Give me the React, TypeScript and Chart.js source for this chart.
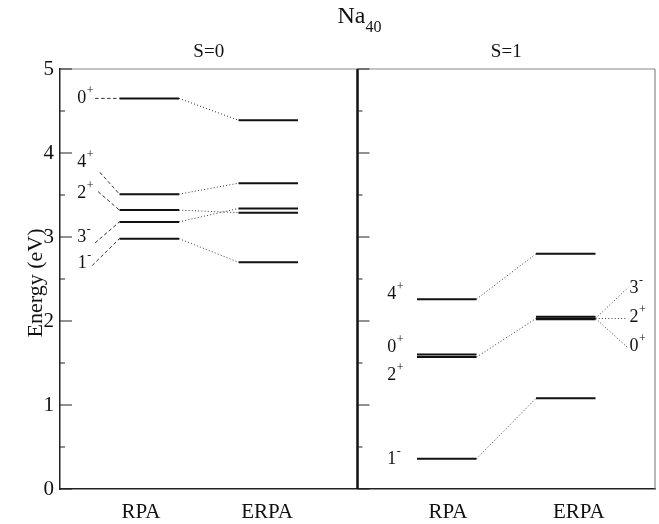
import React, { useEffect, useRef } from "react";
import { Chart, registerables } from "chart.js";

Chart.register(...registerables);

const FONT = "'Liberation Serif', 'Times New Roman', serif";

// ----- text -----
const titleMain = "Na";
const titleSub = "40";
const panelTitles = ["S=0", "S=1"];
const yAxisTitle = "Energy (eV)";

// ----- axes -----
const xTickLabels = ["RPA", "ERPA", "RPA", "ERPA"];
const xTickPositions = [1.36, 3.48, 6.52, 8.72];
const yMin = 0;
const yMax = 5;

// ----- columns (x spans in chart units) -----
const s0RpaSpan = [1, 2];
const s0ErpaSpan = [3, 4];
const s1RpaSpan = [6, 7];
const s1ErpaSpan = [8, 9];
const panelDivider = 5;

// ----- energy levels (eV) -----
const s0Rpa = [4.65, 3.51, 3.32, 3.18, 2.98];
const s0Erpa = [4.39, 3.64, 3.34, 3.29, 2.70];
const s1Rpa = [2.26, 1.60, 1.57, 0.36];
const s1Erpa = [2.80, 2.05, 2.03, 2.02, 1.08];

// dotted correlations: [rpa index, erpa index]
const s0Links = [[0, 0], [1, 1], [2, 3], [3, 2], [4, 4]];
const s1Links = [[0, 0], [2, 2], [3, 4]];

// state labels: [main, superscript, x, y]
const s0Labels: [string, string, number, number][] = [
  ["0", "+", 0.29, 4.595],
  ["4", "+", 0.29, 3.83],
  ["2", "+", 0.29, 3.46],
  ["3", "-", 0.29, 2.94],
  ["1", "-", 0.30, 2.63],
];
const s1LeftLabels: [string, string, number, number][] = [
  ["4", "+", 5.5, 2.26],
  ["0", "+", 5.5, 1.63],
  ["2", "+", 5.5, 1.30],
  ["1", "-", 5.5, 0.30],
];
const s1RightLabels: [string, string, number, number][] = [
  ["3", "-", 9.57, 2.33],
  ["2", "+", 9.57, 1.99],
  ["0", "+", 9.57, 1.64],
];

// dashed leaders from S=0 labels to RPA levels: [x0, y0, rpa index]
const s0Leaders = [
  [0.59, 4.65, 0],
  [0.67, 3.77, 1],
  [0.64, 3.54, 2],
  [0.59, 2.93, 3],
  [0.54, 2.66, 4],
];
// dotted leaders from S=1 ERPA triplet to labels: [x1, y1]
const s1Leaders = [
  [9.55, 2.40],
  [9.53, 2.03],
  [9.53, 1.69],
];
const s1TripletLevel = 2;

type Seg = { x0: number; y0: number; x1: number; y1: number; kind: "level" | "dot" | "dash" };

function buildSegments(): Seg[] {
  const segs: Seg[] = [];
  const lv = (vals: number[], span: number[]) =>
    vals.forEach((v) => segs.push({ x0: span[0], y0: v, x1: span[1], y1: v, kind: "level" }));
  lv(s0Rpa, s0RpaSpan);
  lv(s0Erpa, s0ErpaSpan);
  lv(s1Rpa, s1RpaSpan);
  lv(s1Erpa, s1ErpaSpan);
  s0Links.forEach(([a, b]) =>
    segs.push({ x0: s0RpaSpan[1], y0: s0Rpa[a], x1: s0ErpaSpan[0], y1: s0Erpa[b], kind: "dot" })
  );
  s1Links.forEach(([a, b]) =>
    segs.push({ x0: s1RpaSpan[1], y0: s1Rpa[a], x1: s1ErpaSpan[0], y1: s1Erpa[b], kind: "dot" })
  );
  s0Leaders.forEach(([x, y, i]) =>
    segs.push({ x0: x, y0: y, x1: s0RpaSpan[0], y1: s0Rpa[i], kind: "dash" })
  );
  s1Leaders.forEach(([x, y]) =>
    segs.push({ x0: s1ErpaSpan[1], y0: s1Erpa[s1TripletLevel], x1: x, y1: y, kind: "dot" })
  );
  return segs;
}

const framePlugin = {
  id: "frame",
  afterDraw(chart: any) {
    const { ctx, chartArea, scales } = chart;
    const xs = scales.x;
    const ys = scales.y;
    const { left, right, top, bottom } = chartArea;
    const div = xs.getPixelForValue(panelDivider);
    ctx.save();

    // top and right borders (gray)
    ctx.strokeStyle = "#8a8a8a";
    ctx.lineWidth = 1.2;
    ctx.beginPath();
    ctx.moveTo(left, top);
    ctx.lineTo(right, top);
    ctx.moveTo(right, top);
    ctx.lineTo(right, bottom);
    ctx.stroke();

    // divider
    ctx.strokeStyle = "#111";
    ctx.lineWidth = 2.5;
    ctx.beginPath();
    ctx.moveTo(div, top);
    ctx.lineTo(div, bottom);
    ctx.stroke();

    // inward ticks
    ctx.strokeStyle = "#222";
    ctx.lineWidth = 1.2;
    ctx.beginPath();
    for (let v = yMin; v <= yMax + 1e-9; v += 0.5) {
      const py = ys.getPixelForValue(v);
      const len = Math.abs(v - Math.round(v)) < 1e-6 ? 12 : 5;
      ctx.moveTo(left, py);
      ctx.lineTo(left + len, py);
      ctx.moveTo(div, py);
      ctx.lineTo(div + len, py);
    }
    ctx.stroke();

    // y axis title
    ctx.fillStyle = "#111";
    ctx.font = `22px ${FONT}`;
    ctx.textAlign = "center";
    ctx.textBaseline = "alphabetic";
    ctx.save();
    ctx.translate(42, (top + bottom) / 2 + 4);
    ctx.rotate(-Math.PI / 2);
    ctx.fillText(yAxisTitle, 0, 0);
    ctx.restore();

    // main title with subscript
    ctx.textAlign = "left";
    ctx.font = `24px ${FONT}`;
    const wMain = ctx.measureText(titleMain).width;
    ctx.font = `16px ${FONT}`;
    const wSub = ctx.measureText(titleSub).width;
    const tx = (left + right) / 2 + 2 - (wMain + wSub) / 2;
    ctx.font = `24px ${FONT}`;
    ctx.fillText(titleMain, tx, 23);
    ctx.font = `16px ${FONT}`;
    ctx.fillText(titleSub, tx + wMain, 32);

    // panel titles
    ctx.textAlign = "center";
    ctx.font = `19px ${FONT}`;
    ctx.fillText(panelTitles[0], (left + div) / 2, 57);
    ctx.fillText(panelTitles[1], (div + right) / 2, 57);

    // state labels
    const drawLabel = ([m, s, x, y]: [string, string, number, number]) => {
      const px = xs.getPixelForValue(x);
      const py = ys.getPixelForValue(y);
      ctx.textAlign = "left";
      ctx.font = `18px ${FONT}`;
      ctx.fillText(m, px, py);
      const w = ctx.measureText(m).width;
      ctx.font = `12px ${FONT}`;
      ctx.fillText(s === "-" ? "-" : "+", px + w + 0.5, py - 9);
    };
    s0Labels.forEach(drawLabel);
    s1LeftLabels.forEach(drawLabel);
    s1RightLabels.forEach(drawLabel);

    ctx.restore();
  },
};

export default function App() {
  const ref = useRef<HTMLCanvasElement | null>(null);

  useEffect(() => {
    if (!ref.current) return;
    const segs = buildSegments();
    const datasets = segs.map((s) => ({
      type: "line" as const,
      data: [
        { x: s.x0, y: s.y0 },
        { x: s.x1, y: s.y1 },
      ],
      borderColor: s.kind === "level" ? "#111" : "#333",
      borderWidth: s.kind === "level" ? 2 : 1,
      borderDash: s.kind === "dot" ? [1, 2.2] : s.kind === "dash" ? [3.5, 2.5] : [],
      pointRadius: 0,
      fill: false,
      tension: 0,
      clip: false as any,
    }));

    const chart = new Chart(ref.current, {
      type: "line",
      data: { datasets },
      options: {
        responsive: false,
        animation: false,
        events: [],
        layout: { padding: { top: 69, right: 4, left: 0, bottom: 0 } },
        plugins: {
          legend: { display: false },
          tooltip: { enabled: false },
          title: { display: false },
        },
        scales: {
          x: {
            type: "linear",
            min: 0,
            max: 10,
            afterBuildTicks: (axis: any) => {
              axis.ticks = xTickPositions.map((v) => ({ value: v }));
            },
            ticks: {
              autoSkip: false,
              maxRotation: 0,
              callback: (_v: any, i: number) => xTickLabels[i],
              font: { family: FONT, size: 21 },
              color: "#111",
              padding: 11,
            },
            grid: { display: false, drawTicks: false },
            border: { display: true, color: "#222", width: 1.5 },
            afterFit: (s: any) => {
              s.height = 35;
            },
          },
          y: {
            type: "linear",
            min: yMin,
            max: yMax,
            ticks: {
              stepSize: 1,
              font: { family: FONT, size: 21 },
              color: "#111",
              padding: 6,
            },
            grid: { display: false, drawTicks: false },
            border: { display: true, color: "#222", width: 1.5 },
            afterFit: (s: any) => {
              s.width = 60;
            },
          },
        },
      },
      plugins: [framePlugin],
    });
    return () => chart.destroy();
  }, []);

  return (
    <div style={{ position: "absolute", left: 0, top: 0, width: 659, height: 524, background: "#fff" }}>
      <canvas ref={ref} width={659} height={524} style={{ display: "block" }} />
    </div>
  );
}
